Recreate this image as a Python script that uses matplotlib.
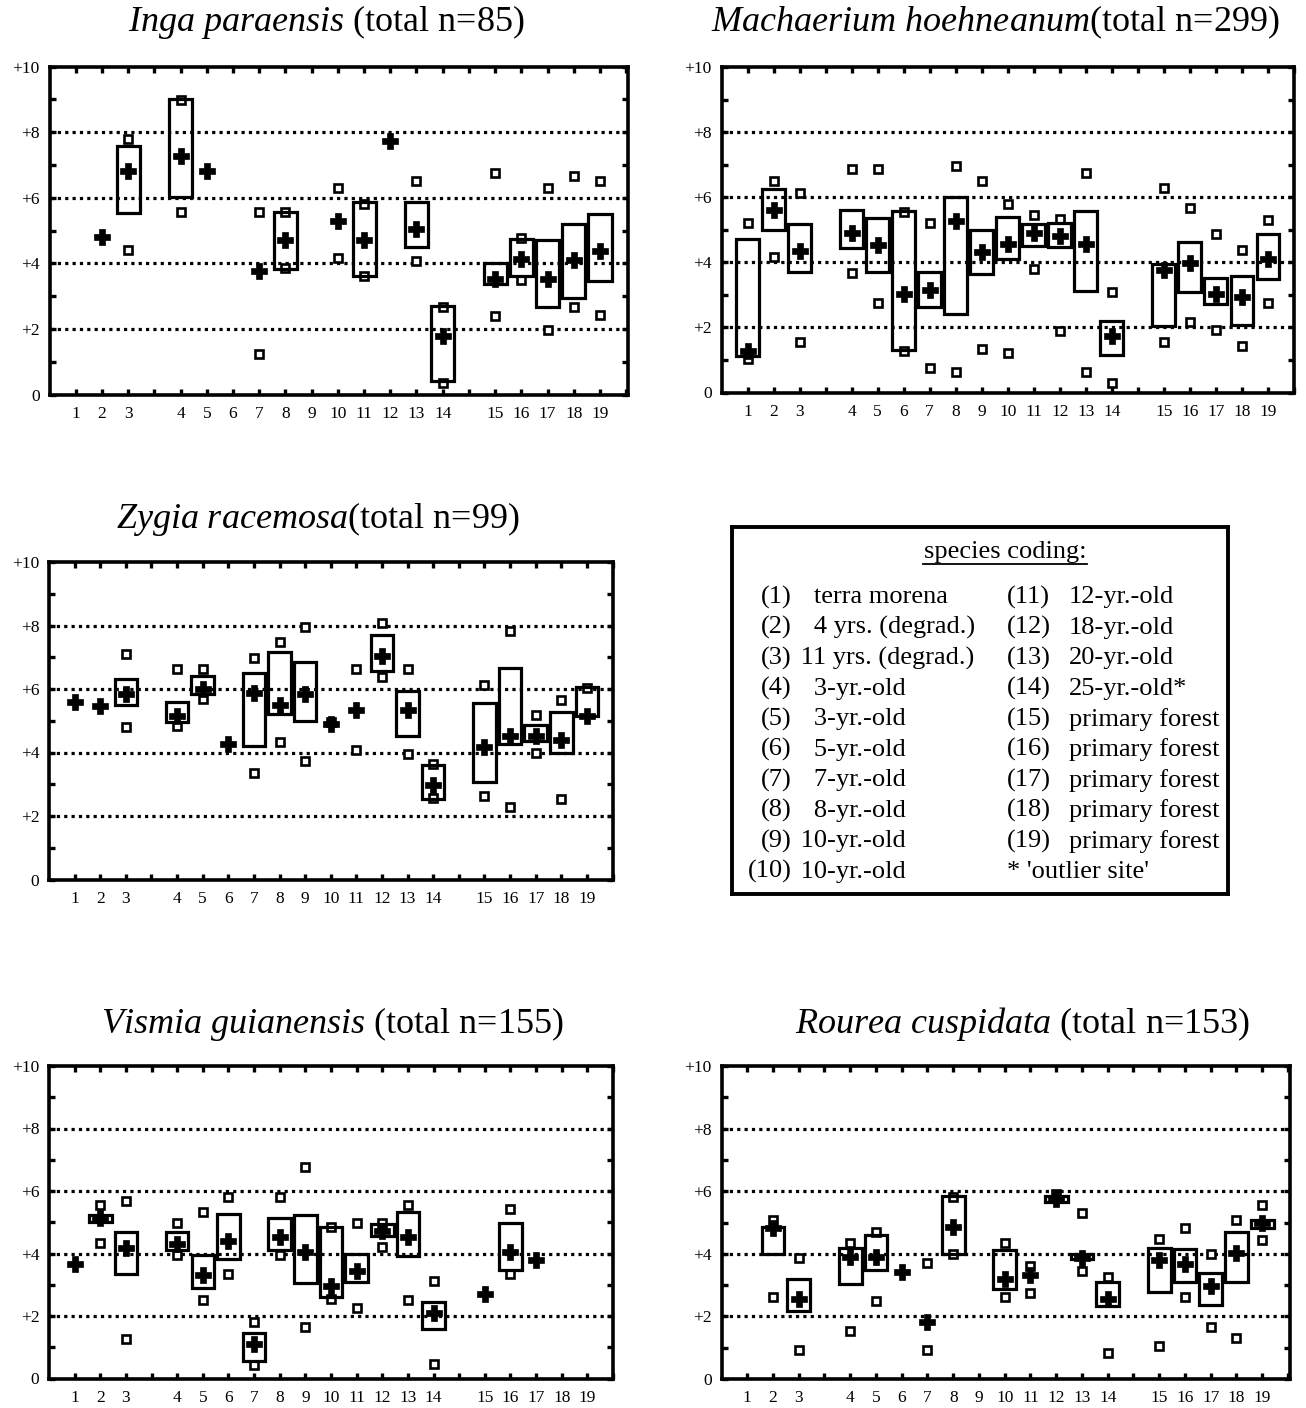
import numpy as np
import matplotlib
matplotlib.use("Agg")
import matplotlib.pyplot as plt
from matplotlib.patches import Rectangle
from matplotlib.lines import Line2D

plt.rcParams['font.family'] = ['Liberation Serif', 'DejaVu Serif']
plt.rcParams['mathtext.fontset'] = 'custom'
plt.rcParams['mathtext.rm'] = 'Liberation Serif'
plt.rcParams['mathtext.it'] = 'Liberation Serif:italic'

nan = np.nan

# ---------------- data ----------------
sites = list(range(1, 20))
site_labels = [str(s) for s in sites]
ytick_labels = ['0', '+2', '+4', '+6', '+8', '+10']

inga_median = [nan, 4.81, 6.80, 7.28, 6.80, nan, 3.76, 4.70, nan, 5.30, 4.70, 7.74, 5.06, 1.79, 3.53, 4.12, 3.53, 4.11, 4.37]
inga_q_hi = [nan, nan, 7.57, 9.02, nan, nan, nan, 5.55, nan, nan, 5.88, nan, 5.88, 2.71, 4.02, 4.75, 4.72, 5.19, 5.50]
inga_q_lo = [nan, nan, 5.52, 6.03, nan, nan, nan, 3.83, nan, nan, 3.61, nan, 4.50, 0.41, 3.37, 3.60, 2.68, 2.93, 3.45]
inga_max = [nan, nan, 7.80, 8.98, nan, nan, 5.57, 5.57, nan, 6.29, 5.81, nan, 6.51, 2.66, 6.75, 4.78, 6.29, 6.65, 6.51]
inga_min = [nan, nan, 4.40, 5.57, nan, nan, 1.25, 3.85, nan, 4.17, 3.61, nan, 4.06, 0.36, 2.40, 3.48, 1.96, 2.66, 2.42]

mach_median = [1.28, 5.62, 4.35, 4.91, 4.54, 3.03, 3.16, 5.26, 4.32, 4.55, 4.91, 4.81, 4.55, 1.75, 3.75, 3.98, 3.03, 2.93, 4.09]
mach_q_hi = [4.71, 6.25, 5.19, 5.60, 5.36, 5.57, 3.70, 6.01, 4.98, 5.38, 5.19, 5.22, 5.57, 2.21, 3.96, 4.62, 3.51, 3.57, 4.88]
mach_q_lo = [1.13, 4.98, 3.70, 4.45, 3.70, 1.31, 2.62, 2.42, 3.65, 4.11, 4.50, 4.47, 3.13, 1.15, 2.03, 3.10, 2.72, 2.06, 3.49]
mach_max = [5.21, 6.50, 6.14, 6.86, 6.86, 5.55, 5.21, 6.96, 6.50, 5.79, 5.45, 5.34, 6.73, 3.10, 6.27, 5.68, 4.86, 4.39, 5.31]
mach_min = [1.03, 4.16, 1.56, 3.68, 2.74, 1.28, 0.75, 0.62, 1.34, 1.20, 3.80, 1.90, 0.62, 0.28, 1.56, 2.16, 1.92, 1.44, 2.74]

zyg_median = [5.60, 5.47, 5.84, 5.14, 6.00, 4.28, 5.86, 5.49, 5.84, 4.89, 5.35, 7.05, 5.35, 2.97, 4.16, 4.53, 4.53, 4.39, 5.14]
zyg_q_hi = [nan, nan, 6.32, 5.58, 6.42, nan, 6.51, 7.16, 6.86, nan, nan, 7.71, 5.95, 3.60, 5.56, 6.66, 4.87, 5.29, 6.07]
zyg_q_lo = [nan, nan, 5.51, 4.95, 5.84, nan, 4.19, 5.21, 5.00, nan, nan, 6.58, 4.53, 2.55, 3.08, 4.28, 4.37, 4.00, 5.14]
zyg_max = [nan, nan, 7.11, 6.63, 6.63, nan, 6.98, 7.47, 7.95, 4.95, 6.63, 8.07, 6.63, 3.63, 6.14, 7.84, 5.19, 5.66, 6.03]
zyg_min = [nan, nan, 4.81, 4.84, 5.68, nan, 3.37, 4.34, 3.74, nan, 4.08, 6.37, 3.95, 2.58, 2.63, 2.28, 3.97, 2.53, nan]

vis_median = [3.67, 5.13, 4.17, 4.31, 3.32, 4.41, 1.12, 4.52, 4.04, 2.96, 3.43, 4.73, 4.54, 2.10, 2.71, 4.04, 3.80, nan, nan]
vis_q_hi = [nan, 5.23, 4.70, 4.70, 3.96, 5.27, 1.46, 5.14, 5.23, 4.84, 3.97, 4.93, 5.32, 2.45, nan, 4.97, nan, nan, nan]
vis_q_lo = [nan, 5.00, 3.33, 4.12, 2.89, 3.83, 0.56, 4.12, 3.06, 2.61, 3.09, 4.57, 3.91, 1.60, nan, 3.48, nan, nan, nan]
vis_max = [nan, 5.56, 5.69, 4.97, 5.32, 5.80, 1.81, 5.80, 6.78, 4.86, 4.97, 4.97, 5.56, 3.12, nan, 5.43, nan, nan, nan]
vis_min = [nan, 4.34, 1.28, 3.94, 2.50, 3.35, 0.43, 3.96, 1.65, 2.55, 2.27, 4.22, 2.50, 0.45, nan, 3.35, nan, nan, nan]

rou_median = [nan, 4.82, 2.57, 3.90, 3.91, 3.43, 1.83, 4.87, nan, 3.19, 3.32, 5.74, 3.85, 2.57, 3.80, 3.69, 2.96, 4.04, 5.00]
rou_q_hi = [nan, 4.87, 3.19, 4.20, 4.60, nan, nan, 5.85, nan, 4.12, nan, 5.85, 3.99, 3.09, 4.20, 4.15, 3.40, 4.71, 5.09]
rou_q_lo = [nan, 3.99, 2.18, 3.05, 3.48, nan, nan, 3.99, nan, 2.89, nan, 5.64, 3.83, 2.34, 2.79, 3.11, 2.37, 3.11, 4.84]
rou_max = [nan, 5.09, 3.85, 4.33, 4.70, nan, 3.72, 5.80, nan, 4.33, 3.60, 5.90, 5.30, 3.27, 4.47, 4.84, 3.99, 5.09, 5.55]
rou_min = [nan, 2.63, 0.94, 1.54, 2.50, nan, 0.94, 3.99, nan, 2.63, 2.74, nan, 3.46, 0.82, 1.04, 2.63, 1.67, 1.30, 4.45]

species_names = ['Inga paraensis', 'Machaerium hoehneanum', 'Zygia racemosa',
                 'Vismia guianensis', 'Rourea cuspidata']
species_totals = [' (total n=85)', '(total n=299)', '(total n=99)',
                  ' (total n=155)', ' (total n=153)']

legend_left_codes = ['(1)', '(2)', '(3)', '(4)', '(5)', '(6)', '(7)', '(8)', '(9)', '(10)']
legend_left_text = ['   terra morena', '   4 yrs. (degrad.)', ' 11 yrs. (degrad.)',
                    '   3-yr.-old', '   3-yr.-old', '   5-yr.-old', '   7-yr.-old',
                    '   8-yr.-old', ' 10-yr.-old', ' 10-yr.-old']
legend_right_codes = ['(11)', '(12)', '(13)', '(14)', '(15)', '(16)', '(17)', '(18)', '(19)', '']
legend_right_text = ['12-yr.-old', '18-yr.-old', '20-yr.-old', '25-yr.-old*',
                     'primary forest', 'primary forest', 'primary forest',
                     'primary forest', 'primary forest', "* 'outlier site'"]

# ---------------- layout ----------------
W, H = 1306, 1408
fig = plt.figure(figsize=(W / 100, H / 100), dpi=100)

def fx(x):
    return x / W

def fy(y):
    return 1 - y / H

# site -> x position (gaps after site 3 and site 14)
def site_pos(s):
    if s <= 3:
        return s
    if s <= 14:
        return s + 1
    return s + 2

xpos = np.array([site_pos(s) for s in sites], dtype=float)

panels = [
    dict(box=(49.5, 628.3, 66.5, 394.5), title=(326, 22), xmax=22.08,
         data=(inga_median, inga_q_hi, inga_q_lo, inga_max, inga_min)),
    dict(box=(721.5, 1294, 67, 392.5), title=(995, 22), xmax=21.93,
         data=(mach_median, mach_q_hi, mach_q_lo, mach_max, mach_min)),
    dict(box=(49, 612.5, 562, 879.5), title=(318, 519), xmax=21.96,
         data=(zyg_median, zyg_q_hi, zyg_q_lo, zyg_max, zyg_min)),
    dict(box=(49, 613, 1066, 1378.5), title=(332, 1024), xmax=21.98,
         data=(vis_median, vis_q_hi, vis_q_lo, vis_max, vis_min)),
    dict(box=(721.5, 1290, 1066, 1379), title=(1023, 1024), xmax=22.08,
         data=(rou_median, rou_q_hi, rou_q_lo, rou_max, rou_min)),
]

box_w = 0.88

for i, p in enumerate(panels):
    l, r, t, b = p['box']
    ax = fig.add_axes([fx(l), fy(b), (r - l) / W, (b - t) / H])
    med, qhi, qlo, mx, mn = [np.array(a, dtype=float) for a in p['data']]
    ax.set_xlim(0, p['xmax'])
    ax.set_ylim(0, 10)
    for gy in [2, 4, 6, 8]:
        ax.axhline(gy, color='black', lw=2.3, ls=(0, (1.0, 1.3)), zorder=1)
    # min / max squares
    ax.plot(xpos, mx, ls='none', marker='s', ms=6, mfc='white', mec='black', mew=1.9, zorder=2)
    ax.plot(xpos, mn, ls='none', marker='s', ms=6, mfc='white', mec='black', mew=1.9, zorder=2)
    # boxes
    for x, lo, hi in zip(xpos, qlo, qhi):
        if np.isnan(lo) or np.isnan(hi):
            continue
        ax.add_patch(Rectangle((x - box_w / 2, lo), box_w, hi - lo, fill=False,
                               ec='black', lw=2.3, zorder=3))
    # medians
    ax.plot(xpos, med, ls='none', marker='P', ms=11, mfc='black', mec='black', mew=0.5, zorder=4)

    ax.set_xticks(np.arange(1, 23))
    lab = [''] * 22
    for s, xp in zip(site_labels, xpos):
        lab[int(xp) - 1] = s
    ax.set_xticklabels(lab)
    ax.set_yticks(np.arange(0, 11))
    ylab = []
    for v in range(11):
        ylab.append(ytick_labels[v // 2] if v % 2 == 0 else '')
    ax.set_yticklabels(ylab)
    ax.tick_params(axis='both', direction='in', length=4, width=2.4,
                   top=True, right=True, labelsize=12.5)
    ax.tick_params(axis='x', pad=8)
    ax.tick_params(axis='y', pad=7)
    for sp in ax.spines.values():
        sp.set_linewidth(2.6)

    tx, ty = p['title']
    name = species_names[i].replace(' ', r'\ ')
    fig.text(fx(tx), fy(ty), r'$\mathit{' + name + '}$' + species_totals[i],
             ha='center', va='center', fontsize=26)

# ---------------- legend box ----------------
L0, L1, T0, T1 = 731.7, 1227.7, 526.7, 894
lax = fig.add_axes([fx(L0), fy(T1), (L1 - L0) / W, (T1 - T0) / H])
lax.set_xlim(L0, L1)
lax.set_ylim(T1, T0)
lax.set_xticks([])
lax.set_yticks([])
for sp in lax.spines.values():
    sp.set_linewidth(2.8)

lfs = 19
lax.text(1005, 552, 'species coding:', ha='center', va='center', fontsize=lfs)
lax.add_line(Line2D([923, 1087], [564, 564], color='black', lw=1.3))

row0, dy = 597, 30.55
for k in range(10):
    y = row0 + k * dy
    lax.text(791.7, y, legend_left_codes[k], ha='right', va='center', fontsize=lfs)
    lax.text(794, y, legend_left_text[k], ha='left', va='center', fontsize=lfs)
    if legend_right_codes[k]:
        lax.text(1007.3, y, legend_right_codes[k], ha='left', va='center', fontsize=lfs)
        lax.text(1069, y, legend_right_text[k], ha='left', va='center', fontsize=lfs)
    else:
        lax.text(1007.3, y, legend_right_text[k], ha='left', va='center', fontsize=lfs)

fig.savefig('out.png', dpi=100)
